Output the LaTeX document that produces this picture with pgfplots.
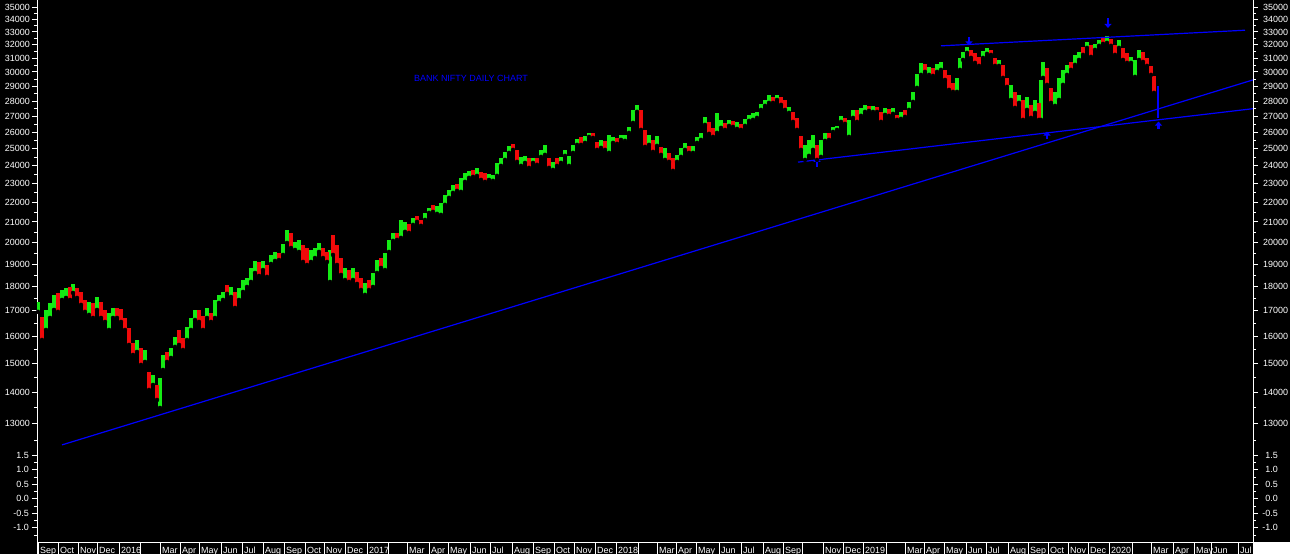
\documentclass[border=0pt]{standalone}
\usepackage{fontspec}
\setmainfont{Liberation Sans}
\usepackage{pgfplots}
\usepackage{pgfplotstable}
\pgfplotsset{compat=1.18}
\usetikzlibrary{arrows.meta}

\definecolor{upgreen}{RGB}{20,235,20}
\definecolor{downred}{RGB}{240,10,10}
\definecolor{lineblue}{RGB}{0,0,255}
\newcommand{\lab}{\fontsize{9}{10}\selectfont}

% daily price bars, sampled every ~4 sessions: x low high up(1)/down(0)
\pgfplotstableread{
x l h c
1 16956 17364 1
5 15862 16755 0
9 16244 17036 1
13 16715 17323 1
17 17036 17656 1
21 16956 17740 0
25 17446 17866 1
29 17530 17952 1
33 17446 17995 0
36 17740 18124 1
40 17530 17952 0
44 17241 17782 0
48 16956 17446 0
52 16836 17364 1
56 16715 17323 0
60 17036 17572 1
64 16715 17364 0
68 16557 17036 0
72 16244 16916 1
76 16715 17118 1
80 16715 17118 0
84 16557 17077 0
88 16244 16715 0
92 15676 16322 0
96 15307 15750 0
100 15416 15862 1
104 14948 15564 0
108 15054 15489 1
112 14083 14700 0
116 14252 14596 1
120 13752 14252 0
123 13494 14492 1
126 14770 15307 1
130 15054 15416 0
134 15198 15564 1
138 15601 15977 1
142 15676 16244 0
146 15489 15938 0
150 15862 16361 1
154 16244 16715 1
158 16635 17036 1
162 16557 17036 0
166 16244 16795 0
170 16715 17118 1
174 16557 16916 0
178 16715 17446 1
182 17323 17656 1
186 17446 17782 1
190 17698 18081 0
194 17572 17995 1
198 17118 17782 0
202 17446 17952 1
206 17782 18296 1
210 17995 18384 1
214 18210 18826 1
218 18604 19142 1
222 18472 19097 0
226 18736 19142 1
230 18428 18962 0
234 19007 19418 1
238 19142 19557 1
242 19187 19511 0
246 19418 19933 1
250 19980 20607 1
254 19744 20461 0
258 19649 20027 1
262 19557 20122 1
266 19097 19886 0
270 18962 19744 0
274 19097 19649 1
278 19279 19744 1
282 19557 19980 1
286 19279 19744 0
290 19097 19557 0
293 18210 19649 1
296 19418 20365 0
300 18962 19886 0
304 18516 19279 0
308 18296 18826 1
312 18210 18736 0
316 18296 18826 1
320 18124 18648 0
324 17866 18384 0
328 17656 18167 1
332 17866 18296 0
336 17995 18604 1
340 18604 19187 1
344 18826 19279 0
348 18736 19511 1
352 19557 20122 1
356 20075 20461 1
360 20122 20461 0
364 20219 21103 1
368 20510 21004 1
372 20461 20905 0
376 20855 21204 1
380 21004 21306 0
384 20806 21103 0
388 21103 21458 1
392 21458 21714 1
396 21509 21871 0
400 21407 21819 1
404 21357 21975 1
408 21871 22398 1
412 22238 22664 1
416 22504 22936 1
420 22611 22991 0
424 22557 23321 1
428 23100 23600 1
432 23321 23712 1
436 23377 23768 0
440 23433 23882 1
444 23209 23656 0
448 23100 23600 0
452 23209 23544 1
456 23155 23489 1
460 23433 24168 1
464 23997 24457 1
468 24340 24809 1
472 24750 25166 1
476 24926 25286 0
480 24226 24926 0
484 23997 24516 1
488 24168 24574 1
492 23882 24457 0
496 24168 24457 1
500 24054 24457 0
504 24516 24926 1
508 24633 25226 1
512 23882 24457 0
516 23768 24226 1
520 23997 24457 0
524 24168 24516 1
528 24574 24926 1
532 23997 24574 1
536 24750 25226 1
540 25226 25587 1
544 25226 25710 0
548 25346 25772 1
552 25710 25956 1
556 25649 25956 0
560 24926 25406 0
564 25046 25526 1
568 24926 25466 0
572 24750 25833 1
576 25346 25710 1
580 25286 25649 0
584 25526 25833 1
588 25466 25833 1
592 25956 26329 1
596 26581 27414 1
600 27285 27744 1
604 26140 27414 0
608 25106 26140 0
612 25226 25833 1
616 24809 25526 0
620 25166 25772 1
624 24633 25106 0
628 24340 25046 1
632 24226 24750 0
636 23712 24457 0
640 24226 24633 1
644 24516 25046 1
648 24926 25346 1
652 24750 25166 0
656 24750 25166 1
660 25346 25710 1
664 25526 25956 1
668 26455 26963 1
672 25895 26644 0
676 25710 26266 0
680 25956 27221 1
684 26266 26770 1
688 26140 26581 0
692 26392 26770 1
696 26329 26707 0
700 26203 26644 1
704 26140 26518 0
708 26392 26834 1
712 26707 27092 1
716 26770 27221 1
720 26899 27285 1
724 27414 27810 1
728 27678 28074 1
732 27876 28412 1
736 27876 28277 0
740 28074 28412 1
744 27744 28277 0
748 27414 28074 0
752 27221 27612 1
756 26644 27285 0
760 26140 26899 0
764 24926 25772 0
768 24340 25226 1
772 24574 25526 1
776 24926 25833 1
780 24340 25226 0
784 24516 25526 1
788 25466 25956 1
792 25526 25956 0
796 26017 26329 1
800 26140 26392 1
804 26644 27028 1
808 26518 26899 0
812 25710 26770 1
816 26899 27414 1
820 26644 27414 0
824 27028 27546 1
828 27285 27744 1
832 27350 27678 0
836 27285 27678 1
840 27285 27612 0
844 26644 27285 0
848 27092 27546 1
852 27028 27480 0
856 27157 27546 1
860 26770 27092 0
864 26834 27285 1
868 26963 27414 0
872 27414 27942 1
876 27942 28615 1
880 28888 29867 1
884 29796 30659 1
888 30009 30586 0
892 29796 30369 1
896 29725 30296 0
900 30009 30586 1
904 30151 30731 1
908 29442 30151 0
912 28750 29796 0
916 28615 29234 0
920 28615 29584 1
923 30151 31025 1
926 30876 31471 1
930 31397 31848 1
934 31025 31620 0
938 30659 31397 0
942 30441 31099 0
946 31025 31546 1
950 31322 31772 1
954 31248 31620 0
958 30441 31025 0
962 30441 30876 1
966 29584 30514 0
970 28958 29584 0
974 28074 29096 1
978 27546 28615 0
982 27876 28412 1
986 26770 28074 0
990 27414 28277 1
994 26899 27744 0
998 27221 28074 1
1002 26770 27876 0
1004 26770 29442 1
1006 29584 30731 1
1010 29096 30296 0
1014 27876 28888 0
1018 27678 28615 1
1022 28074 29584 1
1026 29096 30151 1
1030 29796 30514 1
1034 30151 30731 0
1038 30514 31248 1
1042 30876 31471 1
1046 31248 31848 0
1050 31772 32229 1
1054 31099 32001 0
1058 31620 32077 1
1062 31925 32381 1
1066 32077 32537 0
1070 32153 32693 1
1074 31925 32459 0
1078 31248 32001 0
1082 31772 32381 1
1086 30876 31772 0
1090 30659 31397 0
1094 30659 31099 1
1098 29654 30876 1
1102 30876 31620 1
1106 30731 31471 0
1110 30441 31025 0
1114 29796 30441 0
1117 28547 29725 0
}\bars

\pgfplotsset{
  chartpane/.style={
    anchor=south west, scale only axis, width=1216bp,
    xmin=0, xmax=1216, clip=true,
    axis x line=none,
    axis line style={white, line width=1bp},
    tick style={white, line width=1bp},
    tick align=outside, major tick length=5bp, minor tick length=3bp,
    yticklabel style={text=white, font=\lab, inner sep=0pt},
  },
  pricepane/.style={
    at={(37bp,107bp)}, height=447bp,
    ymin=12297, ymax=35613,
    ytick={13000,14000,15000,16000,17000,18000,19000,20000,21000,22000,23000,24000,
      25000,26000,27000,28000,29000,30000,31000,32000,33000,34000,35000},
    minor ytick={12500,13500,14500,15500,16500,17500,18500,19500,20500,21500,22500,
      23500,24500,25500,26500,27500,28500,29500,30500,31500,32500,33500,34500},
    log ticks with fixed point,
    /pgf/number format/fixed, /pgf/number format/precision=0,
    /pgf/number format/1000 sep={}, /pgf/number format/assume math mode=true,
  },
  indpane/.style={
    at={(37bp,12bp)}, height=95bp,
    ymin=-1.49, ymax=1.79,
    ytick={-1,-0.5,0,0.5,1,1.5},
    minor ytick={-1.25,-0.75,-0.25,0.25,0.75,1.25},
    /pgf/number format/fixed, /pgf/number format/fixed zerofill,
    /pgf/number format/precision=1, /pgf/number format/assume math mode=true,
  },
}

\begin{document}
\begin{tikzpicture}
\useasboundingbox (0,0) rectangle (1290bp,554bp);
\fill[black] (0,0) rectangle (1290bp,554bp);

% price pane
\begin{axis}[chartpane, ymode=log, pricepane, axis y line*=left,
  yticklabel style={anchor=east, xshift=-2bp}]
\addplot[only marks, mark=none, restrict expr to domain={\thisrow{c}}{1:1},
  error bars/.cd, y dir=plus, y explicit, error mark=none,
  error bar style={upgreen, line width=3.4bp}]
  table[x=x, y=l, y error expr=\thisrow{h}-\thisrow{l}] {\bars};
\addplot[only marks, mark=none, restrict expr to domain={\thisrow{c}}{0:0},
  error bars/.cd, y dir=plus, y explicit, error mark=none,
  error bar style={downred, line width=3.4bp}]
  table[x=x, y=l, y error expr=\thisrow{h}-\thisrow{l}] {\bars};
% trend lines
\addplot[lineblue, line width=1.2bp] coordinates {(25,12357) (1216,29442)};
\addplot[lineblue, line width=1.2bp] coordinates {(904,31925) (1208,33136)};
\addplot[lineblue, line width=1.2bp] coordinates {(761,24210) (1216,27493)};
\addplot[lineblue, line width=1.2bp] coordinates {(1121,26880) (1121,29026)};
% arrows
\addplot[lineblue, line width=2.6bp, -{Triangle[width=7bp,length=4bp]}] coordinates {(1071,34122) (1071,33319)};
\addplot[lineblue, line width=2.6bp, -{Triangle[width=7bp,length=4bp]}] coordinates {(932,32615) (932,31960)};
\addplot[lineblue, line width=2.6bp, -{Triangle[width=7bp,length=4bp]}] coordinates {(780,23938) (780,24457)};
\addplot[lineblue, line width=2.6bp, -{Triangle[width=7bp,length=4bp]}] coordinates {(1010,25569) (1010,26033)};
\addplot[lineblue, line width=2.6bp, -{Triangle[width=7bp,length=4bp]}] coordinates {(1121.5,26184) (1121.5,26663)};
\end{axis}
\begin{axis}[chartpane, ymode=log, pricepane, axis y line*=right,
  yticklabel style={anchor=west, xshift=5bp}]
\end{axis}

% indicator pane
\begin{axis}[chartpane, indpane, axis y line*=left,
  yticklabel style={anchor=east, xshift=-3bp}]
\end{axis}
\begin{axis}[chartpane, indpane, axis y line*=right,
  yticklabel style={anchor=east, xshift=20bp}]
\end{axis}

% month strip
\begin{axis}[at={(37bp,-3bp)}, anchor=south west, scale only axis,
  width=1216bp, height=15bp, xmin=0, xmax=1216, ymin=0, ymax=1,
  ytick=\empty, axis line style={white, line width=1bp},
  xmajorgrids, major grid style={white, line width=1bp},
  major tick length=0pt,
  xtick={1,21,41,60,82,103,123,143,162,184,205,226,247,268,287,308,330,351,370,392,411,433,453,475,496,517,537,558,579,601,620,639,659,682,704,726,746,765,786,806,826,849,868,887,907,929,949,971,991,1011,1031,1051,1072,1095,1114,1136,1157,1174,1201},
  xticklabels={Sep,Oct,Nov,Dec,2016,{},Mar,Apr,May,Jun,Jul,Aug,Sep,Oct,Nov,Dec,2017,{},Mar,Apr,May,Jun,Jul,Aug,Sep,Oct,Nov,Dec,2018,{},Mar,Apr,May,Jun,Jul,Aug,Sep,{},Nov,Dec,2019,{},Mar,Apr,May,Jun,Jul,Aug,Sep,Oct,Nov,Dec,2020,{},Mar,Apr,May,Jun,Jul},
  xticklabel style={anchor=base west, inner sep=0pt, xshift=2bp, yshift=4bp, text=white, font=\lab}]
\end{axis}
\fill[white] (1253bp,0) rectangle (1290bp,12bp);

\node[text=lineblue, font=\fontsize{9}{10}\selectfont, inner sep=0pt] at (471bp,476bp) {BANK NIFTY DAILY CHART};
\end{tikzpicture}
\end{document}
